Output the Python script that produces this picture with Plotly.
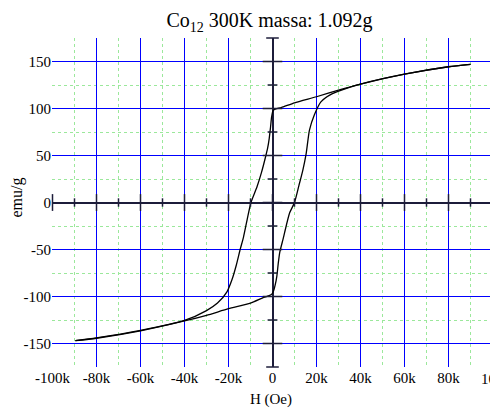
import numpy as np
import plotly.graph_objects as go

# ---- data (H in Oe, M in emu/g) ----
upper_h = [90000, 80000, 60000, 40000, 30000, 20000, 10000, 4000, 1500, 300, -400, -900,
           -1500, -2200, -3000, -5000, -7000, -9800, -11500, -13200, -14700, -16500,
           -18400, -20700, -25000, -30000, -40000, -60000, -80000, -89600]
upper_m = [147, 144.4, 136.5, 126, 119.5, 112.5, 106, 101, 99.5, 98, 91, 80,
           68, 58, 50, 32, 17, 0, -18, -37, -50, -67,
           -82, -95, -107, -115, -125.5, -136, -144, -147]
lower_h = [-89600, -80000, -60000, -40000, -30000, -20000, -10000, -4000, -1500, -300, 500,
           1200, 2000, 2600, 3300, 4800, 5500, 7800, 10000, 12000, 13800, 15300, 16800,
           19000, 22000, 27000, 35000, 40000, 60000, 80000, 90000]
lower_m = [-147, -144.4, -136.5, -126, -120, -113, -107, -101, -99, -97.5, -94,
           -88, -78, -65, -53, -39, -32, -11, 0, 18, 34.5, 52, 77,
           93, 107, 115.5, 122.5, 126, 136.5, 144.4, 147]

x_tickvals = [-100000, -80000, -60000, -40000, -20000, 0, 20000, 40000, 60000, 80000]
x_ticktext = ["-100k", "-80k", "-60k", "-40k", "-20k", "0", "20k", "40k", "60k", "80k"]
y_tickvals = [-150, -100, -50, 0, 50, 100, 150]
y_ticktext = ["-150", "-100", "-50", "0", "50", "100", "150"]
x_minor_vals = [-90000, -70000, -50000, -30000, -10000, 10000, 30000, 50000, 70000, 90000]
y_minor_vals = [-125, -75, -25, 25, 75, 125]

x_range = [-100227.27, 98863.6]
y_range = [-175, 175]

FONT = "Liberation Serif, Times New Roman, serif"
AXIS_COL = "#1c1c3a"

fig = go.Figure()

fig.add_trace(go.Scatter(x=upper_h, y=upper_m, mode="lines",
                         line=dict(color="black", width=1.3, shape="spline", smoothing=0.6),
                         showlegend=False, hoverinfo="skip"))
fig.add_trace(go.Scatter(x=lower_h, y=lower_m, mode="lines",
                         line=dict(color="black", width=1.3, shape="spline", smoothing=0.6),
                         showlegend=False, hoverinfo="skip"))

# tick marks on the zero axes
xt_major = np.array(x_tickvals[1:])
xt_minor = np.array(x_minor_vals)
yt_major = np.array(y_tickvals)
yt_minor = np.array(y_minor_vals)
tick_style = dict(color=AXIS_COL, line=dict(color=AXIS_COL, width=1.5))
fig.add_trace(go.Scatter(x=xt_major, y=np.zeros(len(xt_major)), mode="markers",
                         marker=dict(symbol="line-ns", size=12, **tick_style),
                         showlegend=False, hoverinfo="skip", cliponaxis=False))
fig.add_trace(go.Scatter(x=xt_minor, y=np.zeros(len(xt_minor)), mode="markers",
                         marker=dict(symbol="line-ns", size=6, **tick_style),
                         showlegend=False, hoverinfo="skip", cliponaxis=False))
fig.add_trace(go.Scatter(x=np.zeros(len(yt_major)), y=yt_major, mode="markers",
                         marker=dict(symbol="line-ew", size=14, **tick_style),
                         showlegend=False, hoverinfo="skip", cliponaxis=False))
fig.add_trace(go.Scatter(x=np.zeros(len(yt_minor)), y=yt_minor, mode="markers",
                         marker=dict(symbol="line-ew", size=7, **tick_style),
                         showlegend=False, hoverinfo="skip", cliponaxis=False))
# end caps of the zero axes
fig.add_trace(go.Scatter(x=[0, 0], y=y_range, mode="markers",
                         marker=dict(symbol="line-ew", size=9, **tick_style),
                         showlegend=False, hoverinfo="skip", cliponaxis=False))
fig.add_trace(go.Scatter(x=[x_tickvals[0]], y=[0], mode="markers",
                         marker=dict(symbol="line-ns", size=12, **tick_style),
                         showlegend=False, hoverinfo="skip", cliponaxis=False))

grid_common = dict(
    showline=False, ticks="", zeroline=True, zerolinecolor=AXIS_COL, zerolinewidth=2,
    showgrid=True, gridcolor="#0000ff", gridwidth=1,
    tickfont=dict(family=FONT, size=15, color="black"),
)
minor_common = dict(tickmode="array", showgrid=True, gridcolor="#9be89b",
                    griddash="dot", gridwidth=1, ticks="")

fig.update_layout(
    width=490, height=408,
    margin=dict(l=52, r=0, t=38, b=41),
    paper_bgcolor="white", plot_bgcolor="white",
    font=dict(family=FONT, color="black"),
    title=dict(text="Co<sub>12</sub> 300K massa: 1.092g", x=0.55, xanchor="center",
               y=0.95, yanchor="middle", yref="container",
               font=dict(family=FONT, size=20, color="black")),
    xaxis=dict(range=x_range, tickmode="array", tickvals=x_tickvals, ticktext=x_ticktext,
               minor=dict(tickvals=x_minor_vals, **minor_common),
               title=dict(text="H (Oe)", font=dict(family=FONT, size=15), standoff=8),
               **grid_common),
    yaxis=dict(range=y_range, tickmode="array", tickvals=y_tickvals, ticktext=y_ticktext,
               minor=dict(tickvals=y_minor_vals, **minor_common),
               **grid_common),
)

fig.add_annotation(text="emu/g", textangle=-90, x=0, xref="paper", xanchor="center",
                   xshift=-35, y=0.515, yref="paper", yanchor="middle", showarrow=False,
                   font=dict(family=FONT, size=16, color="black"))
fig.add_annotation(text="100k", x=1.0, xref="paper", xanchor="left", xshift=-11,
                   y=0, yref="paper", yanchor="top", yshift=-2, showarrow=False,
                   font=dict(family=FONT, size=15, color="black"))

fig.write_html("out.html", config={"displayModeBar": False},
               post_script="document.body.style.margin='0';")
